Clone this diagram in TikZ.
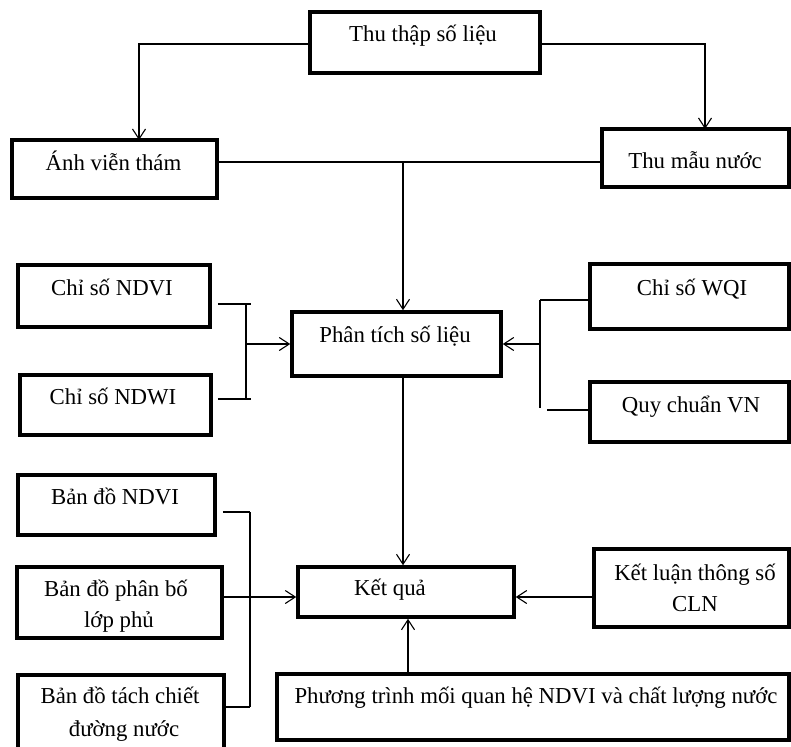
\documentclass[tikz,border=0pt]{standalone}
\usepackage{fontspec}
\setmainfont{Liberation Serif}
\usetikzlibrary{arrows.meta}
\begin{document}
\begin{tikzpicture}[x=1pt,y=-1pt,
  box/.style={draw, line width=3.5pt, inner sep=0pt},
  txt/.style={anchor=base, font=\fontsize{22.8}{27}\selectfont, inner sep=0pt},
  conn/.style={line width=1.1pt},
  arr/.style={conn, -{Straight Barb[length=10pt,width=13pt]}}]
\clip (0,0) rectangle (791,746);
\fill[white] (0,0) rectangle (791,746);
% boxes
\node[box, minimum width=230pt, minimum height=61pt] (thu) at (425,42.5) {};
\node[box, minimum width=205pt, minimum height=58pt] (anh) at (114.5,169) {};
\node[box, minimum width=187pt, minimum height=58pt] (mau) at (695.5,158) {};
\node[box, minimum width=209pt, minimum height=64pt] (pt) at (396.5,344) {};
\node[box, minimum width=192pt, minimum height=62pt] (ndvi) at (114,296) {};
\node[box, minimum width=191pt, minimum height=60pt] (ndwi) at (115.5,405) {};
\node[box, minimum width=199pt, minimum height=65pt] (wqi) at (689.5,296.5) {};
\node[box, minimum width=199pt, minimum height=60pt] (qc) at (689.5,412) {};
\node[box, minimum width=216pt, minimum height=50pt] (kq) at (406,592) {};
\node[box, minimum width=197pt, minimum height=60pt] (bdndvi) at (116.5,505) {};
\node[box, minimum width=205pt, minimum height=71pt] (bdpb) at (119.5,602.5) {};
\node[box, minimum width=206pt, minimum height=80pt] (bdtc) at (121,715) {};
\node[box, minimum width=195pt, minimum height=78pt] (kl) at (691.5,588) {};
\node[box, minimum width=512pt, minimum height=66pt] (pteq) at (533,707) {};
% texts
\node[txt] (t1) at (423,42) {Thu thập số liệu};
\node[txt] (t2) at (113.5,170) {Ánh viễn thám};
\node[txt] (t3) at (695,168) {Thu mẫu nước};
\node[txt] (t4) at (395,342) {Phân tích số liệu};
\node[txt] (t5) at (112,295) {Chỉ số NDVI};
\node[txt] (t6) at (113,404) {Chỉ số NDWI};
\node[txt] (t7) at (692,295) {Chỉ số WQI};
\node[txt] (t8) at (691,412) {Quy chuẩn VN};
\node[txt] (t9) at (390,595) {Kết quả};
\node[txt] (t10) at (115,504) {Bản đồ NDVI};
\node[txt] (t11) at (116,596) {Bản đồ phân bố};
\node[txt] (t12) at (119,627) {lớp phủ};
\node[txt] (t13) at (120,703) {Bản đồ tách chiết};
\node[txt] (t14) at (124,736) {đường nước};
\node[txt] (t15) at (695,580) {Kết luận thông số};
\node[txt] (t16) at (695,611) {CLN};
\node[txt] (t17) at (536,703) {Phương trình mối quan hệ NDVI và chất lượng nước};
% connector points
\coordinate (a1) at (139,140);
\coordinate (a2) at (705,129);
\coordinate (j) at (403,162);
\coordinate (lb1) at (246,304);
\coordinate (lb2) at (246,399);
\coordinate (lbm) at (246,344);
\coordinate (rb1) at (540,300);
\coordinate (rb2) at (540,408);
\coordinate (rbm) at (540,344);
\coordinate (bb1) at (250,512);
\coordinate (bb2) at (250,707);
\coordinate (bbm) at (250,597);
\coordinate (k1) at (403,376);
\coordinate (k2) at (408,674);
% connectors
\draw[arr] (thu.west |- 0,44) -| (a1);
\draw[arr] (thu.east |- 0,44) -| (a2);
\draw[conn] (anh.east |- j) -- (mau.west |- j);
\draw[arr] (j) -- (j |- pt.north);
\draw[conn] (ndvi.east |- lb1) ++(6,0) -- (251,304);
\draw[conn] (ndwi.east |- lb2) ++(5,0) -- (251,399);
\draw[conn] (lb1) -- (lb2);
\draw[arr] (lbm) -- (pt.west |- lbm);
\draw[conn] (rb1) -- (wqi.west |- rb1);
\draw[conn] (547,410) -- (qc.west |- 0,410);
\draw[conn] (rb1) -- (rb2);
\draw[arr] (rbm) -- (pt.east |- rbm);
\draw[arr] (k1) -- (k1 |- kq.north);
\draw[conn] (bdndvi.east |- bb1) ++(6,0) -- (bb1);
\draw[conn] (bdtc.east |- bb2) -- (bb2);
\draw[conn] (bb1) -- (bb2);
\draw[arr] (bdpb.east |- bbm) -- (kq.west |- bbm);
\draw[arr] (kl.west |- bbm) -- (kq.east |- bbm);
\draw[arr] (k2) -- (k2 |- kq.south);
\end{tikzpicture}
\end{document}
